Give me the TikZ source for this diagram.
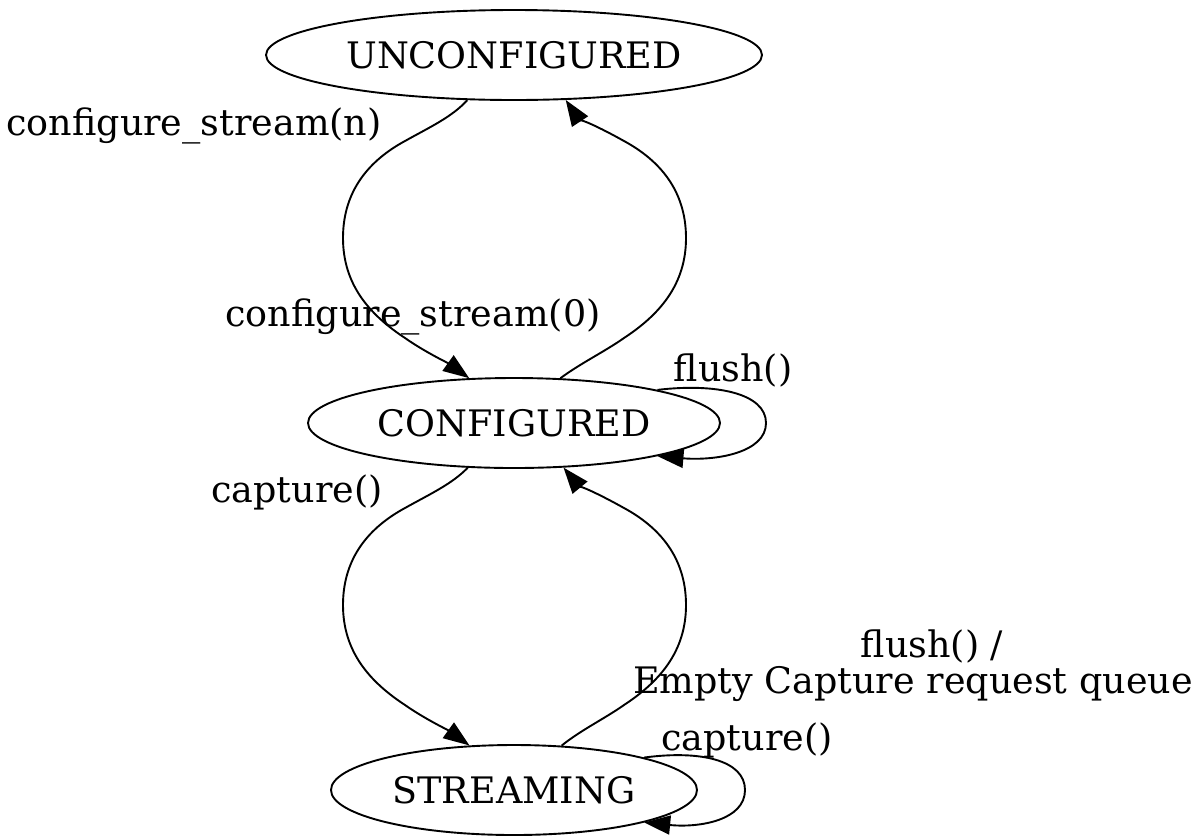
\documentclass[tikz,border=0pt]{standalone}
\usepackage{fontspec}
\setmainfont{DejaVu Serif}
\usetikzlibrary{shapes.geometric,arrows.meta}
\tikzset{
  state/.style={ellipse, draw, line width=1.9pt, inner sep=0pt, minimum height=90pt,
    font=\fontsize{36.5}{43}\selectfont},
  trans/.style={line width=1.9pt, -{Triangle[length=26pt,width=19pt]}},
  lbl/.style={font=\fontsize{36.5}{43}\selectfont, inner sep=0pt, align=center}
}
\begin{document}
\begin{tikzpicture}[x=1pt,y=-1pt]
\useasboundingbox (0,0) rectangle (1201,839);
% states
\node[state, minimum width=496pt] (u) at (514,55) {UNCONFIGURED};
\node[state, minimum width=412pt] (c) at (514,423) {CONFIGURED};
\node[state, minimum width=366pt] (s) at (514,790) {STREAMING};

% UNCONFIGURED -> CONFIGURED
\draw[trans] (u.224.5) .. controls (452,117) and (430,127) .. (405,141)
  .. controls (370,160) and (343,190) .. (343,238)
  .. controls (343,285) and (370,315) .. (405,338)
  .. controls (425,352) and (448,363) .. (c.135);
% CONFIGURED -> UNCONFIGURED
\draw[trans] (c.44) .. controls (581,363) and (604,352) .. (624,338)
  .. controls (659,315) and (686,285) .. (686,238)
  .. controls (686,190) and (659,160) .. (624,141)
  .. controls (599,127) and (577,117) .. (u.319);
% CONFIGURED self loop
\draw[trans] (c.13) .. controls (715,383) and (766,393) .. (766,423)
  .. controls (766,453) and (715,461) .. (c.-13);
% CONFIGURED -> STREAMING
\draw[trans] (c.224.3) .. controls (452,484) and (430,494) .. (405,508)
  .. controls (370,527) and (343,557) .. (343,605)
  .. controls (343,652) and (370,682) .. (405,705)
  .. controls (425,719) and (448,730) .. (s.135.2);
% STREAMING -> CONFIGURED
\draw[trans] (s.43.4) .. controls (581,730) and (604,719) .. (624,705)
  .. controls (659,682) and (686,652) .. (686,605)
  .. controls (686,557) and (659,527) .. (624,508)
  .. controls (599,494) and (577,484) .. (c.318);
% STREAMING self loop
\draw[trans] (s.14.5) .. controls (700,750) and (745,760) .. (745,790)
  .. controls (745,820) and (700,828) .. (s.-14);

% edge labels
\node[lbl] (l1) at (194,126) {configure\_stream(n)};
\node[lbl] (l2) at (413,317) {configure\_stream(0)};
\node[lbl] (l3) at (733,370) {flush()};
\node[lbl] (l4) at (297,492) {capture()};
\node[lbl] (l5a) at (932,646) {flush() /};
\node[lbl] (l5b) at (913,684) {Empty Capture request queue};
\node[lbl] (l6) at (747,740) {capture()};
\end{tikzpicture}
\end{document}
